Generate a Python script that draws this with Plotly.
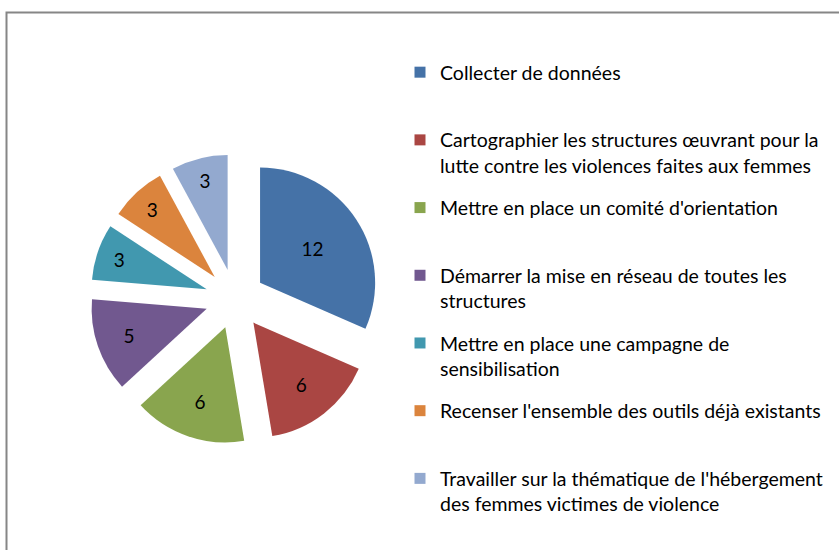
import plotly.graph_objects as go

labels = [
    "Collecter de données",
    "Cartographier les structures œuvrant pour la<br>lutte contre les violences faites aux femmes",
    "Mettre en place un comité d'orientation",
    "Démarrer la mise en réseau de toutes les<br>structures",
    "Mettre en place une campagne de<br>sensibilisation",
    "Recenser l'ensemble des outils déjà existants",
    "Travailler sur la thématique de l'hébergement<br>des femmes victimes de violence",
]
values = [12, 6, 6, 5, 3, 3, 3]
colors = ["#4572A7", "#AA4643", "#89A54E", "#71588F", "#4198AF", "#DB843D", "#93A9CF"]

FONT = "Lato"
W, H = 839, 550
cx, cy, half = 235, 299, 145

fig = go.Figure()
fig.add_trace(go.Pie(
    labels=labels,
    values=values,
    sort=False,
    direction="clockwise",
    rotation=0,
    pull=[0.26] * len(values),
    marker=dict(colors=colors, line=dict(width=0)),
    textinfo="value",
    textposition="inside",
    insidetextorientation="horizontal",
    textfont=dict(color="#000000", size=19, family=FONT),
    hoverinfo="label+value",
    showlegend=False,
    domain=dict(x=[(cx - half) / W, (cx + half) / W], y=[1 - (cy + half) / H, 1 - (cy - half) / H]),
))

# legend entries (one per slice, evenly spaced like the original)
for lab, col in zip(labels, colors):
    n = lab.count("<br>") + 1
    fig.add_trace(go.Scatter(
        x=[None], y=[None], mode="markers",
        marker=dict(symbol="square", size=11, color=col),
        name=lab + "<br> " * (2 - n),
        legendgroup=lab,
        hoverinfo="skip",
    ))

fig.add_shape(type="rect", xref="paper", yref="paper",
              x0=6.5 / W, x1=1.02, y0=-0.02, y1=1 - 12.5 / H,
              line=dict(color="#868686", width=2), fillcolor="rgba(0,0,0,0)")

fig.update_layout(
    width=W, height=H,
    margin=dict(l=0, r=0, t=0, b=0),
    paper_bgcolor="white",
    plot_bgcolor="white",
    font=dict(family=FONT, color="#000000", size=19),
    xaxis=dict(visible=False),
    yaxis=dict(visible=False),
    legend=dict(
        x=400 / W, y=1 - 53 / H, xanchor="left", yanchor="top",
        valign="top",
        font=dict(size=19.5, family=FONT, color="#000000"),
        bgcolor="rgba(0,0,0,0)",
        traceorder="grouped",
        tracegroupgap=14,
        itemsizing="trace",
    ),
    showlegend=True,
)

fig.write_html("out.html", config={"displayModeBar": False},
               post_script="document.body.style.margin='0px';")
